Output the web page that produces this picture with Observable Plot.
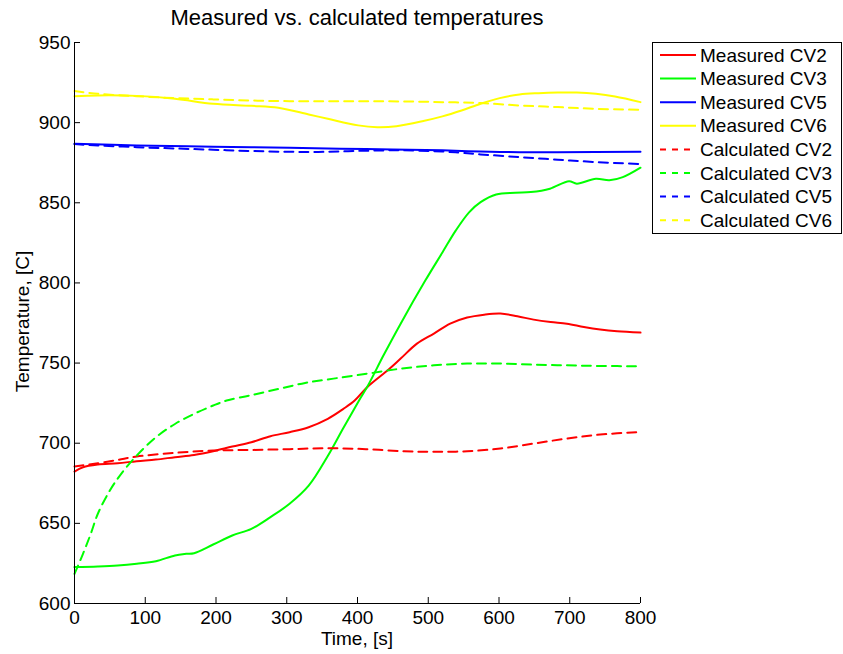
<!DOCTYPE html>
<html>
<head>
<meta charset="utf-8">
<script src="https://cdn.jsdelivr.net/npm/d3@7"></script>
<script src="https://cdn.jsdelivr.net/npm/@observablehq/plot@0.6"></script>
<style>
  body { margin: 0; background: #fff; }
  #chart { position: relative; width: 843px; height: 654px; font-family: "Liberation Sans", Arial, Helvetica, sans-serif; color: #000; }
  #title { height: 30px; box-sizing: border-box; padding-top: 7px; font-size: 22px; line-height: 22px; width: 566px; margin-left: 74px; text-align: center; white-space: nowrap; }
  .axis-label { position: absolute; font-size: 19px; line-height: 19px; text-align: center; white-space: nowrap; }
  #xlabel { left: 74px; width: 566px; top: 629px; }
  #ylabel { left: -128px; width: 300px; top: 312px; transform: rotate(-90deg); transform-origin: 150px 9.5px; }
  #legend { position: absolute; left: 652px; top: 42px; }
  svg { display: block; }
</style>
</head>
<body>
<div id="chart">
  <div id="title">Measured vs. calculated temperatures</div>
  <div id="plot"></div>
  <div class="axis-label" id="xlabel">Time, [s]</div>
  <div class="axis-label" id="ylabel">Temperature, [C]</div>
  <div id="legend"></div>
</div>
<script>
// Axis ticks
const xTicks = [0, 100, 200, 300, 400, 500, 600, 700, 800];
const yTicks = [600, 650, 700, 750, 800, 850, 900, 950];

// Temperature traces: [time (s), temperature (C)]
const measuredCV2 = [
  [0, 682.3], [12, 685], [33, 686.7], [61, 687.5], [88, 688.8], [115, 689.8], [142, 691.3],
  [169, 692.7], [196, 695], [223, 697.9], [250, 700.6], [277, 704.4], [304, 706.9], [331, 710],
  [358, 715.2], [380, 721.4], [396, 726.6], [414, 735.1], [444, 746], [461, 752.8], [484, 762.1],
  [508, 768.4], [531, 774.6], [555, 778.4], [579, 780.2], [602, 780.9], [626, 779.2], [649, 777.1],
  [673, 775.6], [696, 774.6], [720, 772.5], [743, 770.9], [767, 769.8], [800, 769]
];
const measuredCV3 = [
  [0, 622.7], [33, 623.1], [61, 623.7], [88, 624.8], [115, 626.4], [142, 630], [158, 631],
  [169, 631.4], [196, 636.8], [223, 642.4], [250, 646.6], [277, 653.9], [304, 662.2], [331, 673.5],
  [358, 692], [380, 709.5], [404, 728], [416, 737], [437, 755], [461, 774.6], [496, 801.6],
  [520, 819], [539, 832.8], [558, 844.2], [574, 850.4], [596, 855.2], [623, 856.3], [645, 856.7],
  [672, 858.8], [699, 863.5], [710, 861.9], [737, 865], [756, 864], [775, 866], [800, 871.9]
];
const measuredCV5 = [
  [0, 886.8], [88, 885.8], [196, 885], [304, 884.3], [412, 883.5], [520, 882.7], [574, 882],
  [629, 881.6], [683, 881.6], [800, 881.8]
];
const measuredCV6 = [
  [0, 916.5], [33, 917], [88, 916.7], [142, 914.9], [196, 911.8], [250, 910.5], [288, 909.3],
  [331, 905.1], [358, 902.4], [401, 898.3], [428, 897.2], [455, 897.8], [493, 901], [520, 903.9],
  [547, 907.6], [574, 911.8], [601, 915.3], [629, 917.6], [656, 918.4], [683, 918.8], [710, 918.8],
  [737, 918], [764, 916.3], [800, 912.8]
];
const calculatedCV2 = [
  [0, 685.5], [33, 687.5], [61, 689.6], [88, 691.7], [142, 694], [196, 695.4], [250, 695.8],
  [304, 696.3], [358, 696.9], [412, 696.3], [466, 695], [508, 694.6], [555, 695], [602, 696.7],
  [649, 699.8], [696, 702.9], [743, 705.4], [800, 707]
];
const calculatedCV3 = [
  [0, 618.5], [12, 631], [23, 643.5], [33, 656], [50, 670.5], [66, 680.9], [88, 692.3],
  [115, 703.7], [142, 712], [169, 718.3], [196, 723.5], [215, 726.6], [250, 730], [290, 734],
  [326, 737.6], [366, 740.3], [414, 743.4], [461, 746.5], [508, 748.6], [555, 749.7], [602, 749.7],
  [649, 749], [696, 748.6], [743, 748.2], [800, 748]
];
const calculatedCV5 = [
  [0, 886.6], [33, 885.8], [88, 884.7], [142, 883.9], [196, 883.1], [250, 882.3], [304, 881.8],
  [358, 881.8], [412, 882.5], [466, 882.7], [520, 882], [547, 881.2], [574, 880.2], [629, 878.5],
  [683, 876.9], [737, 875.4], [800, 874.2]
];
const calculatedCV6 = [
  [0, 919.7], [33, 918], [88, 916.5], [142, 915.3], [196, 914.5], [250, 913.8], [304, 913.4],
  [358, 913.4], [412, 913.4], [466, 913.2], [520, 912.8], [574, 912.2], [629, 910.7], [683, 909.7],
  [737, 908.6], [800, 908]
];

const series = [
  {name: "Measured CV2", data: measuredCV2, color: "#ff0000", dashed: false},
  {name: "Measured CV3", data: measuredCV3, color: "#00ff00", dashed: false},
  {name: "Measured CV5", data: measuredCV5, color: "#0000ff", dashed: false},
  {name: "Measured CV6", data: measuredCV6, color: "#ffff00", dashed: false},
  {name: "Calculated CV2", data: calculatedCV2, color: "#ff0000", dashed: true},
  {name: "Calculated CV3", data: calculatedCV3, color: "#00ff00", dashed: true},
  {name: "Calculated CV5", data: calculatedCV5, color: "#0000ff", dashed: true},
  {name: "Calculated CV6", data: calculatedCV6, color: "#ffff00", dashed: true}
];

const W = 843, H = 624;
const M = {top: 12, right: 203, bottom: 51, left: 74};
const innerW = W - M.left - M.right;
const innerH = H - M.top - M.bottom;
const font = '"Liberation Sans", Arial, Helvetica, sans-serif';
const dash = "9,6";

const chart = Plot.plot({
  width: W,
  height: H,
  marginTop: M.top,
  marginRight: M.right,
  marginBottom: M.bottom,
  marginLeft: M.left,
  style: {fontFamily: font, fontSize: "19px", color: "#000", background: "#fff"},
  x: {domain: [0, 800]},
  y: {domain: [600, 950]},
  marks: [
    ...series.map(s => Plot.line(s.data, {
      x: d => d[0], y: d => d[1],
      stroke: s.color, strokeWidth: 2,
      strokeDasharray: s.dashed ? dash : null,
      curve: "catmull-rom"
    })),
    Plot.ruleX([0], {stroke: "#000", strokeWidth: 1}),
    Plot.ruleY([600], {stroke: "#000", strokeWidth: 1}),
    Plot.tickX(xTicks, {x: d => d, insetTop: innerH - 6, stroke: "#000"}),
    Plot.tickY(yTicks, {y: d => d, insetRight: innerW - 6, stroke: "#000"}),
    Plot.axisX(xTicks, {tickSize: 0, tickPadding: 7, label: null, fontSize: 19}),
    Plot.axisY(yTicks, {tickSize: 0, tickPadding: 4, label: null, fontSize: 19})
  ]
});
document.getElementById("plot").appendChild(chart);

// Legend box
const LW = 190, LH = 192, rowH = 23.6, firstRow = 13;
const leg = d3.select("#legend").append("svg")
  .attr("width", LW).attr("height", LH)
  .style("font-family", font).style("font-size", "19px");
leg.append("rect").attr("x", 0.5).attr("y", 0.5)
  .attr("width", LW - 1).attr("height", LH - 1)
  .attr("fill", "#fff").attr("stroke", "#000");
const rows = leg.selectAll("g").data(series).join("g")
  .attr("transform", (d, i) => `translate(0,${firstRow + i * rowH})`);
rows.append("line")
  .attr("x1", 8).attr("x2", 44).attr("y1", 0).attr("y2", 0)
  .attr("stroke", d => d.color).attr("stroke-width", 2)
  .attr("stroke-dasharray", d => d.dashed ? "6,6" : null);
rows.append("text")
  .attr("x", 48).attr("y", 0).attr("dy", "0.35em")
  .attr("fill", "#000")
  .text(d => d.name);
</script>
</body>
</html>
